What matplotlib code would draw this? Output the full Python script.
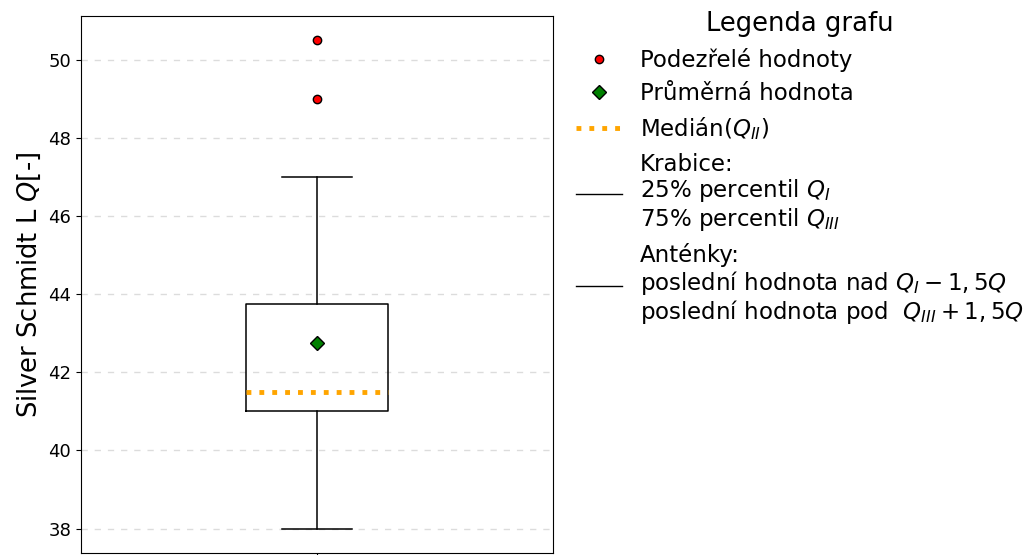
import matplotlib
matplotlib.use("Agg")
import matplotlib.pyplot as plt
from matplotlib.lines import Line2D

# data
whisker_low = 38.0
q1 = 41.0
median = 41.5
q3 = 43.75
whisker_high = 47.0
mean = 42.75
outliers = [49.0, 50.5]

stats = [dict(whislo=whisker_low, q1=q1, med=median, q3=q3, whishi=whisker_high,
              mean=mean, fliers=outliers, label='')]

fig = plt.figure(figsize=(10.28, 5.55), dpi=100)
ax = fig.add_axes([81/1028, 2/555, 472/1028, 537/555])

ax.bxp(stats, positions=[1], widths=0.3, showmeans=True,
       medianprops=dict(color='orange', linestyle=':', linewidth=3.5),
       meanprops=dict(marker='D', markerfacecolor='green', markeredgecolor='black', markersize=7),
       flierprops=dict(marker='o', markerfacecolor='red', markeredgecolor='black', markersize=6),
       boxprops=dict(color='black', linewidth=1.1), whiskerprops=dict(color='black', linewidth=1.1),
       capprops=dict(color='black', linewidth=1.1))

ax.set_xlim(0.5, 1.5)
ax.set_ylim(37.375, 51.125)
ax.set_yticks([38, 40, 42, 44, 46, 48, 50])
ax.set_xticks([1])
ax.set_xticklabels([''])
ax.tick_params(axis='y', labelsize=13)
ax.yaxis.grid(True, linestyle=(0, (4.5, 5)), linewidth=1.0, color='#dcdcdc')
ax.set_axisbelow(True)
ax.set_ylabel('Silver Schmidt L $Q$[-]', fontsize=18.5)

handles = [
    Line2D([], [], marker='o', linestyle='none', markerfacecolor='red', markeredgecolor='black', markersize=6),
    Line2D([], [], marker='D', linestyle='none', markerfacecolor='green', markeredgecolor='black', markersize=7),
    Line2D([], [], color='orange', linestyle=':', linewidth=3.5),
    Line2D([], [], color='black', linewidth=1),
    Line2D([], [], color='black', linewidth=1),
]
labels = [
    'Podezřelé hodnoty',
    'Průměrná hodnota',
    'Medián($Q_{II}$)',
    'Krabice:\n25% percentil $Q_I$\n75% percentil $Q_{III}$',
    'Anténky:\nposlední hodnota nad $Q_I-1,5Q$\nposlední hodnota pod  $Q_{III}+1,5Q$',
]
leg = ax.legend(handles, labels, loc='upper left', bbox_to_anchor=(1.005, 1.047),
                frameon=False, fontsize=16.5, title='Legenda grafu', title_fontsize=18.6,
                labelspacing=0.45)
for t in leg.get_texts():
    t.set_linespacing(1.08)

fig.savefig('out.png', dpi=100)
